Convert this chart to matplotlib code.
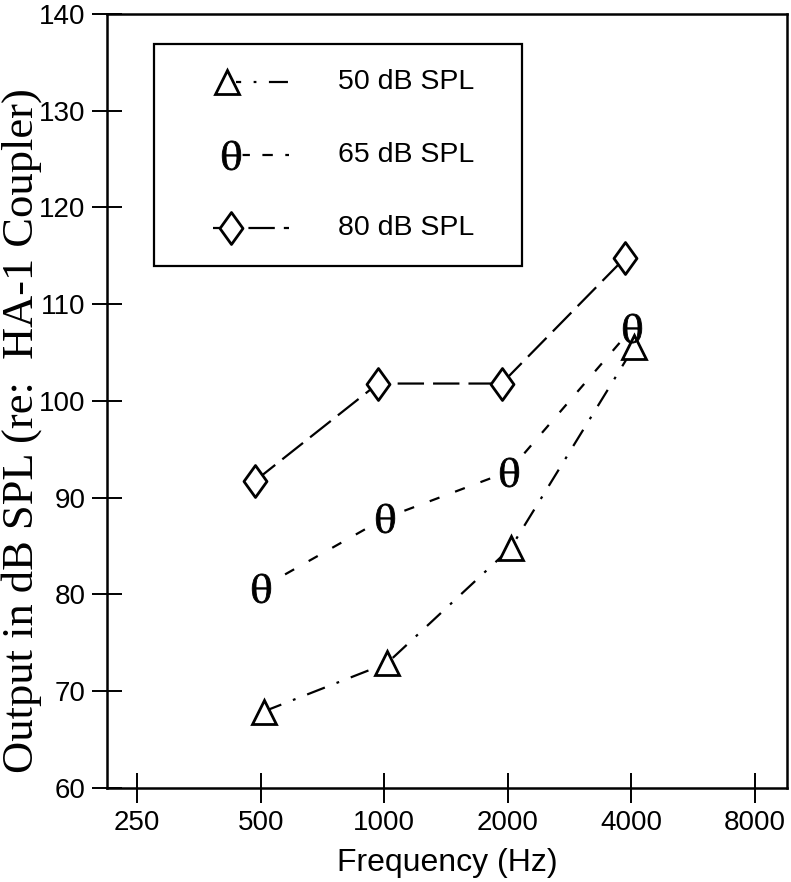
import matplotlib
matplotlib.use('Agg')
import matplotlib.pyplot as plt
import matplotlib.transforms as mtransforms
from matplotlib.path import Path
from matplotlib.patches import Rectangle

# ---- data ----
freqs = [500, 1000, 2000, 4000]
spl_50 = [67.9, 72.9, 84.8, 105.6]
spl_65 = [80.7, 87.9, 92.7, 107.5]
spl_80 = [91.7, 101.8, 101.8, 114.8]
series_labels = ['50 dB SPL', '65 dB SPL', '80 dB SPL']
xticks = [250, 500, 1000, 2000, 4000, 8000]
yticks = [60, 70, 80, 90, 100, 110, 120, 130, 140]

plt.rcParams['lines.scale_dashes'] = False
plt.rcParams['mathtext.fontset'] = 'stix'

fig = plt.figure(figsize=(7.91, 8.82), dpi=100)
ax = fig.add_axes([0.1353, 0.1066, 0.8597, 0.8776])

ax.set_xscale('log', base=2)
ax.set_xlim(211, 9580)
ax.set_ylim(60, 140)

diamond = Path([(0, 1), (0.72, 0), (0, -1), (-0.72, 0), (0, 1)],
               [Path.MOVETO, Path.LINETO, Path.LINETO, Path.LINETO, Path.CLOSEPOLY])
theta = r'$\mathrm{\theta}$'

styles = [
    dict(y=spl_50, dash=(0, (13.7, 9.0, 2.0, 9.0)), lw=1.6, dx=2.0,
         marker='^', ms=17, mew=2.0, mask=None, leg_dash=(10, (13.7, 9.0, 2.0, 9.0))),
    dict(y=spl_65, dash=(0, (7.5, 12.0)), lw=1.6, dx=0.5,
         marker=theta, ms=21, mew=0.6, mask=16, leg_dash=(14, (7.5, 9.0))),
    dict(y=spl_80, dash=(0, (19.0, 6.5)), lw=1.6, dx=-4.5,
         marker=diamond, ms=23, mew=2.0, mask=None, leg_dash=(0, (19.0, 6.5))),
]

for st in styles:
    tr = mtransforms.offset_copy(ax.transData, fig=fig, x=st['dx'], y=0, units='points')
    ax.plot(freqs, st['y'], color='black', lw=st['lw'], linestyle=st['dash'],
            transform=tr, zorder=2)
    if st['mask']:
        ax.plot(freqs, st['y'], linestyle='none', marker='o', ms=st['mask'],
                mfc='white', mec='none', transform=tr, zorder=3)
        ax.plot(freqs, st['y'], linestyle='none', marker=st['marker'], ms=st['ms'],
                mfc='black', mec='black', mew=st['mew'], transform=tr, zorder=4)
    else:
        ax.plot(freqs, st['y'], linestyle='none', marker=st['marker'], ms=st['ms'],
                mfc='white', mec='black', mew=st['mew'], transform=tr, zorder=4)

# ---- axes styling ----
for sp in ax.spines.values():
    sp.set_linewidth(1.8)
ax.set_xticks(xticks)
ax.set_xticklabels([str(v) for v in xticks])
ax.minorticks_off()
ax.set_yticks(yticks)
ax.tick_params(axis='both', direction='inout', length=21, width=1.4, pad=5,
               labelsize=20)
for lab in ax.get_xticklabels() + ax.get_yticklabels():
    lab.set_fontfamily('Liberation Sans')

ax.set_xlabel('Frequency (Hz)', fontsize=23, fontfamily='Liberation Sans', labelpad=9)
fig.text(0.027, 0.512, 'Output in dB SPL (re:  HA-1 Coupler)', rotation=90,
         ha='center', va='center', fontsize=32, fontfamily='Liberation Serif')

# ---- legend drawn in axes coordinates ----
ax.add_patch(Rectangle((0.069, 0.674), 0.541, 0.287, transform=ax.transAxes,
                       fill=False, lw=1.6, ec='black', zorder=5))
rows_y = [0.912, 0.818, 0.724]
for st, lab, yy in zip(styles, series_labels, rows_y):
    x0 = 0.156 if st['marker'] is diamond else 0.19
    ax.plot([x0, 0.268], [yy, yy], transform=ax.transAxes, color='black',
            lw=st['lw'], linestyle=st['leg_dash'], clip_on=False, zorder=5)
    mx = 0.177 if st['marker'] == '^' else 0.183
    if st['mask']:
        ax.plot([mx], [yy], transform=ax.transAxes, marker='o', ms=st['mask'],
                mfc='white', mec='none', zorder=6)
        ax.plot([mx], [yy], transform=ax.transAxes, marker=st['marker'], ms=st['ms'],
                mfc='black', mec='black', mew=st['mew'], zorder=7)
    else:
        ax.plot([mx], [yy], transform=ax.transAxes, marker=st['marker'], ms=st['ms'],
                mfc='white', mec='black', mew=st['mew'], zorder=7)
    ax.text(0.34, yy, lab, transform=ax.transAxes, ha='left', va='center',
            fontsize=20.5, fontfamily='Liberation Sans', zorder=7)

fig.savefig('out.png', dpi=100)
